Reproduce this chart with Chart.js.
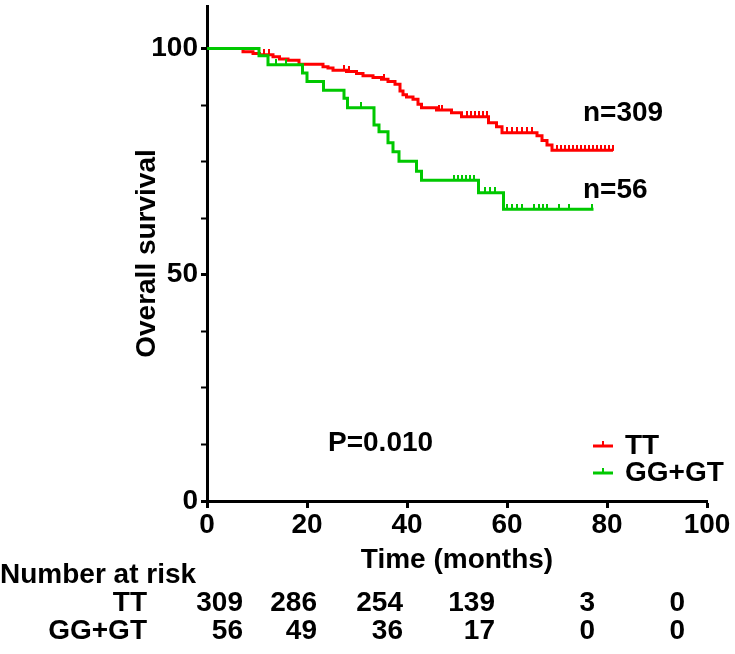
<!DOCTYPE html>
<html>
<head>
<meta charset="utf-8">
<script src="https://cdn.jsdelivr.net/npm/chart.js@4.4.1/dist/chart.umd.min.js"></script>
<style>
html,body{margin:0;padding:0;background:#fff;}
#wrap{width:735px;height:654px;position:relative;}
</style>
</head>
<body>
<div id="wrap"><canvas id="km"></canvas></div>
<script>
// Kaplan-Meier overall survival, TT vs GG+GT
const groups = ['TT', 'GG+GT'];

// TT: step times (months) and survival (%) after each step
const ttTime = [0, 7.2, 9.2, 10.5, 13.2, 14.5, 16.2, 18.4, 23.2, 24.2, 25.2, 27.9, 29.9, 31.2, 33.2, 34.9, 36.2, 37.6, 38.6, 39.2, 39.9, 41.2, 42.2, 42.9, 45.9, 48.9, 50.9, 56.3, 57.9, 59.0, 66.0, 67.0, 68.0, 69.0, 81.2];
const ttSurv = [100, 99.3, 98.9, 98.6, 98.2, 97.7, 97.4, 96.5, 96.0, 95.7, 95.2, 94.9, 94.5, 94.0, 93.6, 93.2, 92.7, 92.1, 90.6, 89.8, 89.3, 88.8, 87.7, 86.9, 86.4, 85.8, 84.9, 83.6, 82.7, 81.4, 80.7, 79.7, 78.7, 77.5, 77.5];
const ttCensor = [11.4, 12.3, 27.3, 28.3, 35.3, 46.3, 47.0, 51.9, 52.7, 53.5, 54.3, 55.1, 55.9, 60.0, 61.0, 62.0, 63.0, 64.0, 65.0,
  70.0, 70.8, 71.6, 72.4, 73.2, 74.0, 74.8, 75.6, 76.4, 77.2, 78.0, 78.8, 79.6, 80.4, 81.2];

// GG+GT
const gtTime = [0, 10.4, 12.2, 19.1, 20.0, 23.3, 27.4, 28.1, 33.4, 34.4, 36.2, 37.2, 38.4, 41.9, 42.9, 54.3, 59.3, 77.3];
const gtSurv = [100, 98.4, 96.4, 94.6, 92.7, 90.8, 89.0, 86.9, 83.1, 81.6, 79.2, 77.2, 75.1, 72.9, 70.9, 68.1, 64.5, 64.5];
const gtCensor = [13.8, 15.8, 30.7, 49.4, 50.2, 51.0, 51.8, 52.6, 53.4, 55.6, 56.6, 57.6,
  60.0, 61.0, 62.0, 63.0, 65.4, 66.3, 67.2, 68.0, 70.3, 72.3, 77.0];

// number at risk
const riskTimes = [0, 20, 40, 60, 80, 100];
const riskTT = [309, 286, 254, 139, 3, 0];
const riskGT = [56, 49, 36, 17, 0, 0];
const pText = 'P=0.010';

const RED = '#ff0000', GREEN = '#00c800';
const FAM = "'Liberation Sans', Arial, sans-serif";
const FONT = 'bold 28px ' + FAM;

function steps(times, surv){
  return times.map((t,i)=>({x:t, y:surv[i]}));
}
function levelAt(times, surv, t){
  let s = surv[0];
  for(let i=0;i<times.length;i++){ if(times[i] <= t) s = surv[i]; }
  return s;
}
function censorPts(ct, times, surv){
  return ct.map(t=>({x:t, y:levelAt(times, surv, t)}));
}
// small upward tick used as the censor mark
function tickImg(color){
  const c = document.createElement('canvas');
  c.width = 2; c.height = 11;
  const g = c.getContext('2d');
  g.fillStyle = color;
  g.fillRect(0, 0, 2, 6);
  return c;
}

const notes = {
  id:'notes',
  afterDraw(chart){
    const c = chart.ctx;
    c.save();
    c.fillStyle = '#000';
    c.font = FONT;
    c.textBaseline = 'middle';
    c.textAlign = 'left';
    c.fillText('n=' + riskTT[0], 583, 113);
    c.fillText('n=' + riskGT[0], 583, 190);
    c.fillText(pText, 328, 443);

    // legend
    const rows = [[groups[0], RED, 446], [groups[1], GREEN, 473]];
    rows.forEach(r=>{
      c.strokeStyle = r[1];
      c.lineWidth = 3;
      c.beginPath(); c.moveTo(593, r[2]); c.lineTo(613, r[2]); c.stroke();
      c.lineWidth = 2;
      c.beginPath(); c.moveTo(603, r[2]); c.lineTo(603, r[2]-5); c.stroke();
      c.fillStyle = '#000';
      c.fillText(r[0], 625, r[2]);
    });

    // number at risk table
    c.textAlign = 'left';
    c.fillText('Number at risk', 0, 575);
    c.textAlign = 'right';
    c.fillText(groups[0], 147, 603);
    c.fillText(groups[1], 147, 631);
    const colRight = [243, 317, 403, 495, 595, 685];
    riskTimes.forEach((t,i)=>{
      c.fillText(String(riskTT[i]), colRight[i], 603);
      c.fillText(String(riskGT[i]), colRight[i], 631);
    });
    c.restore();
  }
};

const tickFont = {family:FAM, size:28, weight:'bold'};

new Chart(document.getElementById('km'), {
  type:'scatter',
  data:{
    datasets:[
      {label:groups[1], data:steps(gtTime, gtSurv), showLine:true, stepped:true, borderColor:GREEN, borderWidth:3, pointRadius:0, order:1},
      {label:groups[1]+' censored', data:censorPts(gtCensor, gtTime, gtSurv), pointStyle:tickImg(GREEN), pointRadius:5, order:1},
      {label:groups[0], data:steps(ttTime, ttSurv), showLine:true, stepped:true, borderColor:RED, borderWidth:3, pointRadius:0, order:2},
      {label:groups[0]+' censored', data:censorPts(ttCensor, ttTime, ttSurv), pointStyle:tickImg(RED), pointRadius:5, order:2}
    ]
  },
  options:{
    responsive:true,
    maintainAspectRatio:false,
    devicePixelRatio:1,
    animation:false,
    events:[],
    layout:{padding:{left:0, right:28, top:0, bottom:0}},
    plugins:{legend:{display:false}, tooltip:{enabled:false}},
    scales:{
      x:{
        type:'linear', min:0, max:100,
        border:{display:true, color:'#000', width:3},
        grid:{drawOnChartArea:false, drawTicks:true, tickLength:7, tickColor:'#000', tickWidth:3},
        ticks:{stepSize:20, color:'#000', font:tickFont, padding:0, maxRotation:0, autoSkip:false},
        title:{display:true, text:'Time (months)', color:'#000', font:tickFont, padding:{top:0, bottom:77}},
        afterFit(s){ s.height = 153; s.paddingLeft = 0; s.paddingRight = 0; }
      },
      y:{
        type:'linear', min:0, max:109.4,
        border:{display:true, color:'#000', width:3},
        grid:{drawOnChartArea:false, drawTicks:true, tickLength:6, tickColor:'#000',
          tickWidth:ctx => (ctx.tick && ctx.tick.value % 50 === 0) ? 3 : 2},
        ticks:{stepSize:12.5, includeBounds:false, autoSkip:false, color:'#000', font:tickFont, padding:3,
          callback:v => (v % 50 === 0 ? v : '')},
        title:{display:true, text:'Overall survival', color:'#000', font:tickFont, padding:{top:130, bottom:0}},
        afterFit(s){ s.width = 207; s.paddingTop = 0; s.paddingBottom = 0; }
      }
    }
  },
  plugins:[notes]
});
</script>
</body>
</html>
